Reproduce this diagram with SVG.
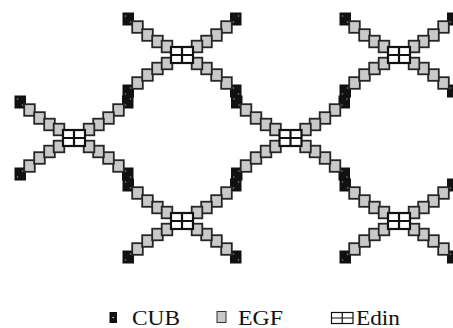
<svg xmlns="http://www.w3.org/2000/svg" xmlns:xlink="http://www.w3.org/1999/xlink" width="453" height="328" viewBox="0 0 453 328">
<style>
.g{fill:#c9c9c9;stroke:#262626;stroke-width:1.8}
.b{fill:#111;stroke:#111;stroke-width:1}
.d{fill:#8a8a8a}
.e{fill:#fff;stroke:#111;stroke-width:2.2}
.l{font-size:20px;fill:#111}
</style>
<defs>
<g id="arm">
<rect class="b" x="-59" y="-42" width="10.5" height="12"/>
<circle class="d" cx="-56.5" cy="-39" r="0.8"/>
<circle class="d" cx="-51.5" cy="-33" r="0.8"/>
<rect class="g" x="-49.8" y="-33.8" width="10.6" height="11.6"/>
<rect class="g" x="-39.8" y="-25.8" width="10.6" height="11.6"/>
<rect class="g" x="-29.8" y="-19.3" width="10.6" height="11.6"/>
<rect class="g" x="-20.3" y="-14.3" width="10.6" height="11.6"/>
</g>
<g id="edin">
<rect class="e" x="-11" y="-8" width="22" height="16"/>
<path class="e" d="M0,-8V8M-11,0H11"/>
</g>
<g id="node">
<use xlink:href="#arm"/>
<use xlink:href="#arm" transform="scale(-1,1)"/>
<use xlink:href="#arm" transform="scale(1,-1)"/>
<use xlink:href="#arm" transform="scale(-1,-1)"/>
<use xlink:href="#edin"/>
</g>
</defs>
<g id="connectors"></g>
<g id="j1" transform="translate(182,55)"><use xlink:href="#node"/></g>
<g id="j2" transform="translate(399,55)"><use xlink:href="#node"/></g>
<g id="j3" transform="translate(74,138)"><use xlink:href="#node"/></g>
<g id="j4" transform="translate(290.5,138)"><use xlink:href="#node"/></g>
<g id="j5" transform="translate(182,221)"><use xlink:href="#node"/></g>
<g id="j6" transform="translate(399,221)"><use xlink:href="#node"/></g>
<g id="legend" font-family="'Liberation Serif','DejaVu Serif',serif">
<g id="leg-cub"><rect x="109.5" y="312" width="7.5" height="11" fill="#111"/><circle cx="113.2" cy="317.5" r="0.8" fill="#ddd"/><text class="l" x="132" y="325" textLength="48" lengthAdjust="spacingAndGlyphs">CUB</text></g>
<g id="leg-egf"><rect x="217" y="311.5" width="9" height="11" fill="#c9c9c9" stroke="#333" stroke-width="1"/><text class="l" x="238" y="325" textLength="45" lengthAdjust="spacingAndGlyphs">EGF</text></g>
<g id="leg-edin"><rect x="331.5" y="312.5" width="21.5" height="11" fill="#fff" stroke="#111" stroke-width="1.2"/><path d="M342.25,312.5V323.5M331.5,318H353" stroke="#111" stroke-width="1.2"/><text class="l" x="356" y="325" textLength="44" lengthAdjust="spacingAndGlyphs">Edin</text></g>
</g>
</svg>
